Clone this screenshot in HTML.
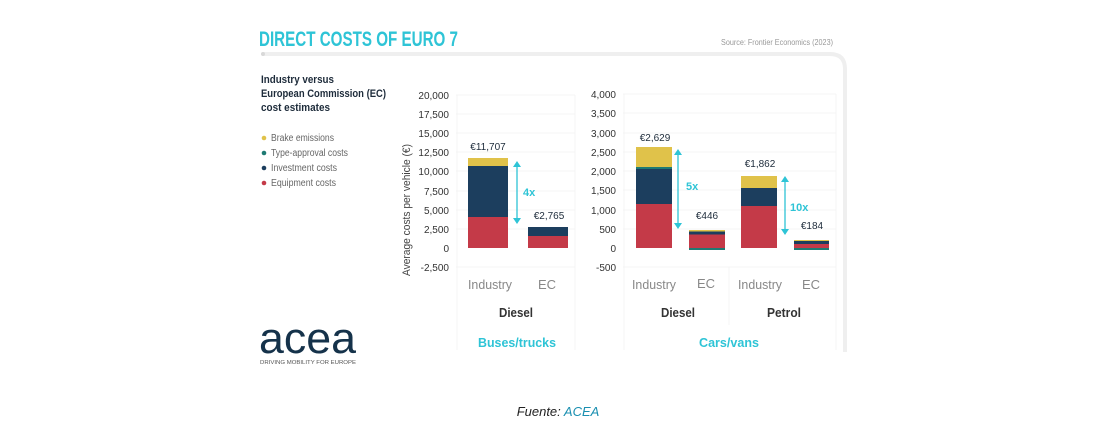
<!DOCTYPE html>
<html><head><meta charset="utf-8"><style>
html,body{margin:0;padding:0;background:#fff;}
svg{display:block;}
text{font-family:"Liberation Sans Narrow","Liberation Sans",sans-serif;}
</style></head><body>
<svg width="1117" height="443" viewBox="0 0 1117 443" xmlns="http://www.w3.org/2000/svg">
<path d="M262 54 H830 Q845 54 845 69 V352" fill="none" stroke="#efefef" stroke-width="4"/>
<circle cx="263" cy="54" r="2" fill="#d8d8d8"/>
<text x="259" y="46" font-size="21" font-weight="bold" fill="#2ec4d6" textLength="199" lengthAdjust="spacingAndGlyphs">DIRECT COSTS OF EURO 7</text>
<text x="833" y="45" font-size="8" fill="#999" text-anchor="end" textLength="112" lengthAdjust="spacingAndGlyphs">Source: Frontier Economics (2023)</text>
<g font-size="11" font-weight="bold" fill="#1d2b3a">
<text x="261" y="83" textLength="73" lengthAdjust="spacingAndGlyphs">Industry versus</text>
<text x="261" y="97" textLength="125" lengthAdjust="spacingAndGlyphs">European Commission (EC)</text>
<text x="261" y="111" textLength="69" lengthAdjust="spacingAndGlyphs">cost estimates</text>
</g>
<g font-size="10" fill="#666">
<circle cx="264" cy="138" r="2.3" fill="#e0c24a"/><text x="271" y="141" textLength="63" lengthAdjust="spacingAndGlyphs">Brake emissions</text>
<circle cx="264" cy="153" r="2.3" fill="#1f7a73"/><text x="271" y="156" textLength="77" lengthAdjust="spacingAndGlyphs">Type-approval costs</text>
<circle cx="264" cy="168" r="2.3" fill="#1c3e5e"/><text x="271" y="171" textLength="66" lengthAdjust="spacingAndGlyphs">Investment costs</text>
<circle cx="264" cy="183" r="2.3" fill="#c43a48"/><text x="271" y="186" textLength="65" lengthAdjust="spacingAndGlyphs">Equipment costs</text>
</g>
<g stroke="#f4f4f4" stroke-width="1">
<line x1="456" x2="575" y1="95" y2="95"/><line x1="456" x2="575" y1="114" y2="114"/><line x1="456" x2="575" y1="133" y2="133"/><line x1="456" x2="575" y1="152" y2="152"/><line x1="456" x2="575" y1="171" y2="171"/><line x1="456" x2="575" y1="191" y2="191"/><line x1="456" x2="575" y1="210" y2="210"/><line x1="456" x2="575" y1="229" y2="229"/><line x1="456" x2="575" y1="267" y2="267"/>
<line x1="457" x2="457" y1="95" y2="350"/><line x1="575" x2="575" y1="95" y2="350"/>
</g>
<g font-size="10" fill="#333" text-anchor="end">
<text x="449" y="99">20,000</text><text x="449" y="118">17,500</text><text x="449" y="137">15,000</text><text x="449" y="156">12,500</text><text x="449" y="175">10,000</text><text x="449" y="195">7,500</text><text x="449" y="214">5,000</text><text x="449" y="233">2,500</text><text x="449" y="252">0</text><text x="449" y="271">-2,500</text>
</g>
<text transform="translate(410,210) rotate(-90)" font-size="11" fill="#444" text-anchor="middle" textLength="132" lengthAdjust="spacingAndGlyphs">Average costs per vehicle (€)</text>
<rect x="468" y="158" width="40" height="8" fill="#e0c24a"/>
<rect x="468" y="166" width="40" height="51" fill="#1c3e5e"/>
<rect x="468" y="217" width="40" height="31" fill="#c43a48"/>
<rect x="528" y="227" width="40" height="9" fill="#1c3e5e"/>
<rect x="528" y="236" width="40" height="12" fill="#c43a48"/>
<g font-size="10" fill="#1d2b3a" text-anchor="middle">
<text x="488" y="150">€11,707</text><text x="549" y="219">€2,765</text>
</g>
<g stroke="#2ec4d6" stroke-width="1.3" fill="#2ec4d6">
<line x1="517" x2="517" y1="165" y2="220"/>
<path d="M513 167 L517 161 L521 167Z M513 218 L517 224 L521 218Z" stroke="none"/>
</g>
<text x="523" y="196" font-size="11" font-weight="bold" fill="#2ec4d6">4x</text>
<g font-size="13" text-anchor="middle">
<text x="490" y="289" fill="#888" textLength="44" lengthAdjust="spacingAndGlyphs">Industry</text><text x="547" y="289" fill="#888">EC</text>
<text x="516" y="317" fill="#333" font-weight="bold" textLength="34" lengthAdjust="spacingAndGlyphs">Diesel</text>
<text x="517" y="347" fill="#2ec4d6" font-weight="bold" textLength="78" lengthAdjust="spacingAndGlyphs">Buses/trucks</text>
</g>
<g stroke="#f4f4f4" stroke-width="1">
<line x1="623" x2="836" y1="94" y2="94"/><line x1="623" x2="836" y1="113" y2="113"/><line x1="623" x2="836" y1="133" y2="133"/><line x1="623" x2="836" y1="152" y2="152"/><line x1="623" x2="836" y1="171" y2="171"/><line x1="623" x2="836" y1="190" y2="190"/><line x1="623" x2="836" y1="210" y2="210"/><line x1="623" x2="836" y1="229" y2="229"/><line x1="623" x2="836" y1="267" y2="267"/>
<line x1="624" x2="624" y1="94" y2="350"/><line x1="729" x2="729" y1="267" y2="325"/><line x1="836" x2="836" y1="94" y2="350"/>
</g>
<g font-size="10" fill="#333" text-anchor="end">
<text x="616" y="98">4,000</text><text x="616" y="117">3,500</text><text x="616" y="137">3,000</text><text x="616" y="156">2,500</text><text x="616" y="175">2,000</text><text x="616" y="194">1,500</text><text x="616" y="214">1,000</text><text x="616" y="233">500</text><text x="616" y="252">0</text><text x="616" y="271">-500</text>
</g>
<rect x="636" y="147" width="36" height="20" fill="#e0c24a"/>
<rect x="636" y="167" width="36" height="2" fill="#1f7a73"/>
<rect x="636" y="169" width="36" height="35" fill="#1c3e5e"/>
<rect x="636" y="204" width="36" height="44" fill="#c43a48"/>
<rect x="689" y="230" width="36" height="1.5" fill="#e0c24a"/>
<rect x="689" y="231.5" width="36" height="3" fill="#1c3e5e"/>
<rect x="689" y="234.5" width="36" height="13.5" fill="#c43a48"/>
<rect x="689" y="248" width="36" height="2" fill="#1f7a73"/>
<rect x="741" y="176" width="36" height="12" fill="#e0c24a"/>
<rect x="741" y="188" width="36" height="18" fill="#1c3e5e"/>
<rect x="741" y="206" width="36" height="42" fill="#c43a48"/>
<rect x="794" y="240" width="35" height="1" fill="#e0c24a"/>
<rect x="794" y="241" width="35" height="3" fill="#1c3e5e"/>
<rect x="794" y="244" width="35" height="4" fill="#c43a48"/>
<rect x="794" y="248" width="35" height="2" fill="#1f7a73"/>
<g font-size="10" fill="#1d2b3a" text-anchor="middle">
<text x="655" y="141">€2,629</text><text x="707" y="219">€446</text><text x="760" y="167">€1,862</text><text x="812" y="229">€184</text>
</g>
<g stroke="#2ec4d6" stroke-width="1.3" fill="#2ec4d6">
<line x1="678" x2="678" y1="153" y2="225"/>
<path d="M674 155 L678 149 L682 155Z M674 223 L678 229 L682 223Z" stroke="none"/>
<line x1="785" x2="785" y1="180" y2="231"/>
<path d="M781 182 L785 176 L789 182Z M781 229 L785 235 L789 229Z" stroke="none"/>
</g>
<text x="686" y="190" font-size="11" font-weight="bold" fill="#2ec4d6">5x</text>
<text x="790" y="211" font-size="11" font-weight="bold" fill="#2ec4d6">10x</text>
<g font-size="13" text-anchor="middle">
<text x="654" y="289" fill="#888" textLength="44" lengthAdjust="spacingAndGlyphs">Industry</text><text x="706" y="288" fill="#888">EC</text>
<text x="760" y="289" fill="#888" textLength="44" lengthAdjust="spacingAndGlyphs">Industry</text><text x="811" y="289" fill="#888">EC</text>
<text x="678" y="317" fill="#333" font-weight="bold" textLength="34" lengthAdjust="spacingAndGlyphs">Diesel</text>
<text x="784" y="317" fill="#333" font-weight="bold" textLength="34" lengthAdjust="spacingAndGlyphs">Petrol</text>
<text x="729" y="347" fill="#2ec4d6" font-weight="bold" textLength="60" lengthAdjust="spacingAndGlyphs">Cars/vans</text>
</g>
<text x="259" y="353" font-size="44" fill="#15324a" font-family="Liberation Sans, sans-serif" textLength="97" lengthAdjust="spacingAndGlyphs">acea</text>
<text x="260" y="364" font-size="5.5" fill="#555" textLength="96" lengthAdjust="spacingAndGlyphs">DRIVING MOBILITY FOR EUROPE</text>
<text x="558" y="416" font-size="13" font-style="italic" text-anchor="middle" font-family="Liberation Sans, sans-serif" fill="#222">Fuente: <tspan fill="#1a8fb0">ACEA</tspan></text>
</svg>
</body></html>
